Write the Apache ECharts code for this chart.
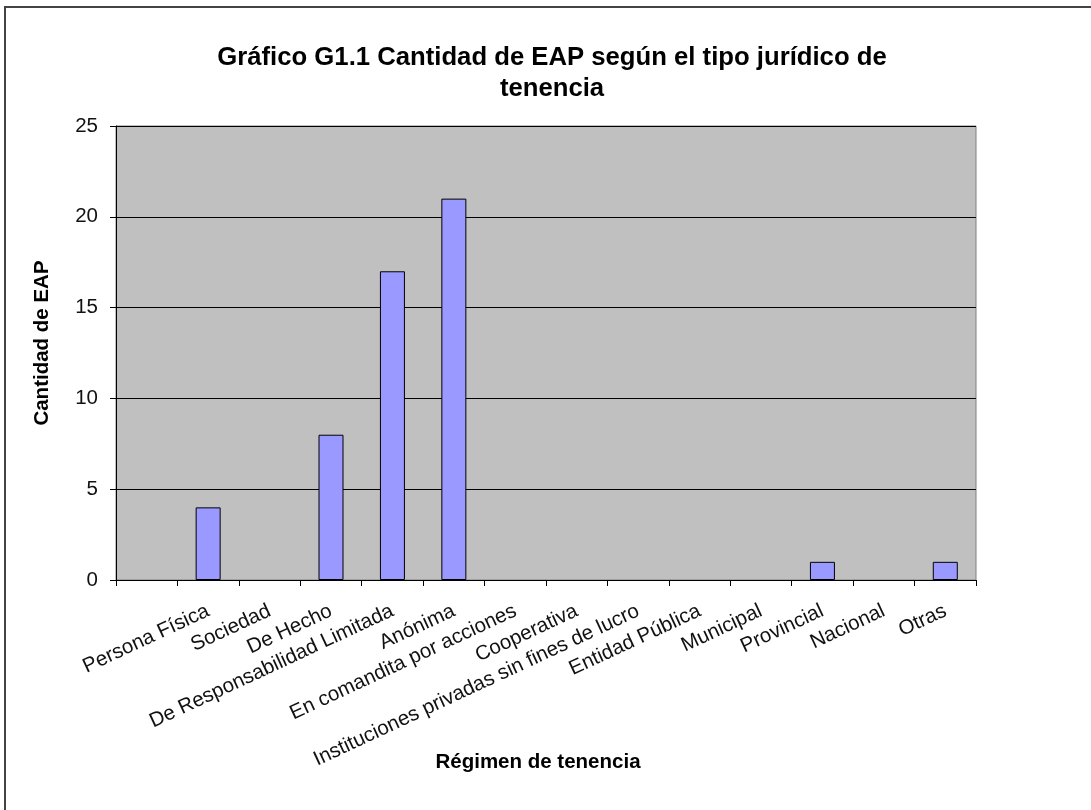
<!DOCTYPE html>
<html>
<head>
<meta charset="utf-8">
<script src="https://cdn.jsdelivr.net/npm/echarts@6/dist/echarts.min.js"></script>
<style>
  html, body { margin: 0; padding: 0; background: #fff; }
  #chart { width: 1091px; height: 810px; }
</style>
</head>
<body>
<div id="chart"></div>
<script>
  // categorias del eje X (la primera queda vacia, como en el original)
  var categorias = ['', 'Persona Física', 'Sociedad', 'De Hecho', 'De Responsabilidad Limitada', 'Anónima',
    'En comandita por acciones', 'Cooperativa', 'Instituciones privadas sin fines de lucro',
    'Entidad Pública', 'Municipal', 'Provincial', 'Nacional', 'Otras'];
  // cantidad de EAP
  var cantidadEAP = [0, 4, 0, 8, 17, 21, 0, 0, 0, 0, 0, 1, 0, 1];
  var tituloGrafico = 'Gráfico G1.1 Cantidad de EAP según el tipo jurídico de\ntenencia';
  var tituloEjeX = 'Régimen de tenencia';
  var tituloEjeY = 'Cantidad de EAP';

  var fuente = 'Arial, "Liberation Sans", sans-serif';
  var chart = echarts.init(document.getElementById('chart'));

  // las barras en cero no se dibujan (sin borde)
  var datosBarras = cantidadEAP.map(function (v) {
    return v === 0 ? { value: v, itemStyle: { borderWidth: 0, opacity: 0 } } : v;
  });

  chart.setOption({
    animation: false,
    backgroundColor: '#fff',
    title: {
      text: tituloGrafico,
      left: 547,
      top: 37,
      textAlign: 'center',
      textStyle: { fontFamily: fuente, fontWeight: 'bold', fontSize: 25.7, lineHeight: 31, color: '#000' }
    },
    grid: {
      left: 116, right: 115, top: 126, bottom: 230,
      show: true,
      backgroundColor: '#c0c0c0',
      borderColor: '#808080',
      borderWidth: 1
    },
    xAxis: {
      type: 'category',
      data: categorias,
      axisLine: { lineStyle: { color: '#000', width: 1 } },
      axisTick: { show: true, length: 6, lineStyle: { color: '#000' } },
      axisLabel: {
        interval: 0,
        rotate: 25,
        margin: 30,
        fontFamily: fuente,
        fontSize: 20.5,
        color: '#111'
      }
    },
    yAxis: {
      type: 'value',
      min: 0,
      max: 25,
      interval: 5,
      axisLine: { show: true, lineStyle: { color: '#000', width: 1 } },
      axisTick: { show: true, length: 6, lineStyle: { color: '#000' } },
      axisLabel: { margin: 18, fontFamily: fuente, fontSize: 20.5, color: '#111' },
      splitLine: { show: true, lineStyle: { color: '#000', width: 1 } }
    },
    graphic: [
      {
        type: 'rect',
        shape: { x: 5, y: 7, width: 1200, height: 1000 },
        style: { fill: 'none', stroke: '#444', lineWidth: 2 },
        silent: true
      },
      {
        type: 'text',
        x: 42,
        y: 343,
        rotation: Math.PI / 2,
        style: {
          text: tituloEjeY,
          fontFamily: fuente,
          fontWeight: 'bold',
          fontSize: 20.5,
          fill: '#000',
          textAlign: 'center',
          textVerticalAlign: 'middle'
        }
      },
      {
        type: 'text',
        x: 538,
        y: 762,
        style: {
          text: tituloEjeX,
          fontFamily: fuente,
          fontWeight: 'bold',
          fontSize: 20.5,
          fill: '#000',
          textAlign: 'center',
          textVerticalAlign: 'middle'
        }
      }
    ],
    series: [{
      name: tituloEjeY,
      type: 'bar',
      data: datosBarras,
      barWidth: 25,
      itemStyle: { color: '#9999ff', borderColor: '#000', borderWidth: 1 }
    }]
  });
</script>
</body>
</html>
